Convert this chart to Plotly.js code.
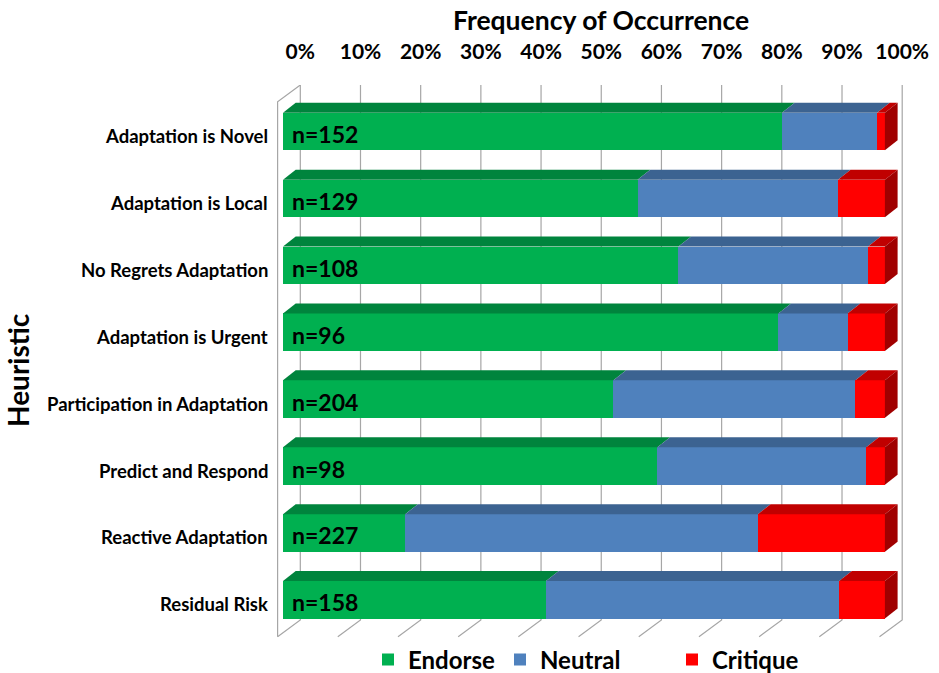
<!DOCTYPE html>
<html>
<head>
<meta charset="utf-8">
<script src="https://cdn.plot.ly/plotly-3.0.1.min.js"></script>
<style>html,body{margin:0;padding:0;background:#fff}#chart{width:939px;height:673px}</style>
</head>
<body>
<div id="chart"></div>
<script>
// ---- data ----
const categories = ['Adaptation is Novel','Adaptation is Local','No Regrets Adaptation','Adaptation is Urgent','Participation in Adaptation','Predict and Respond','Reactive Adaptation','Residual Risk'];
const nLabels = ['n=152','n=129','n=108','n=96','n=204','n=98','n=227','n=158'];
const endorse  = [82.9, 58.9, 65.7, 82.3, 54.9, 62.2, 20.3, 43.7];
const neutral  = [15.8, 33.3, 31.5, 11.5, 40.2, 34.7, 58.6, 48.7];
const critique = [ 1.3,  7.8,  2.8,  6.2,  4.9,  3.1, 21.1,  7.6];
const seriesNames = ['Endorse','Neutral','Critique'];
const tickVals = [0,10,20,30,40,50,60,70,80,90,100];
const tickText = ['0%','10%','20%','30%','40%','50%','60%','70%','80%','90%','100%'];

// ---- styling / geometry ----
const frontCol = ['#00B050','#4F81BD','#FF0000'];
const topCol   = ['#00843D','#3C6391','#C00000'];
const sideCol  = '#A00000';
const W=939,H=673,L=277,R=20,T=85,B=33;
const plotW=W-L-R, plotH=H-T-B;
const PXX=6.019, X0PX=283;          // px per %, px of front 0%
const PXY=66.9;                       // px per category
const xR=[(L-X0PX)/PXX,(W-R-X0PX)/PXX];
const yTopR = (categories.length-1) + (131.5-T)/PXY;
const yR=[yTopR - plotH/PXY, yTopR];
const px2x = px => (px-X0PX)/PXX;
const px2y = py => yTopR - (py-T)/PXY;
const BACK_DX=17.3, BACK_TOP=85, BACK_BOT=620, FLOOR=636.7, FLOOR_DX=22.7;
const BDX=12.7/PXX, BDY=10/PXY, BW=0.56;
const legendLeftPx=[368,500,672];

const n = categories.length;
const yPos = categories.map((c,i)=>n-1-i);
const series=[endorse,neutral,critique];
const legendIds=['legend','legend2','legend3'];

const traces = series.map((vals,k)=>({
  type:'bar', orientation:'h', name:seriesNames[k], x:vals, y:yPos, width:BW, legend:legendIds[k],
  marker:{color:frontCol[k], line:{width:0}}, hoverinfo:'x+name'
}));

const shapes=[];
tickVals.forEach(v=>{
  const bx = X0PX + v*PXX + BACK_DX;
  shapes.push({type:'path',xref:'x',yref:'y',layer:'below',
    path:`M${px2x(bx)},${px2y(BACK_TOP)} L${px2x(bx)},${px2y(BACK_BOT)} L${px2x(bx-FLOOR_DX)},${px2y(FLOOR)}`,
    line:{color:'#A6A6A6',width:1.2}});
});
shapes.push({type:'path',xref:'x',yref:'y',layer:'below',
  path:`M${px2x(X0PX+BACK_DX-FLOOR_DX)},${px2y(FLOOR)} L${px2x(X0PX+BACK_DX-FLOOR_DX)},${px2y(BACK_TOP+FLOOR-BACK_BOT)} L${px2x(X0PX+BACK_DX)},${px2y(BACK_TOP)}`,
  line:{color:'#A6A6A6',width:1.2}});
yPos.forEach((y,i)=>{
  let cum=0;
  const yt=y+BW/2, yb=y-BW/2;
  series.forEach((vals,k)=>{
    const x0=cum, x1=cum+vals[i]; cum=x1;
    shapes.push({type:'path',xref:'x',yref:'y',layer:'above',
      path:`M${x0},${yt} L${x1},${yt} L${x1+BDX},${yt+BDY} L${x0+BDX},${yt+BDY} Z`,
      fillcolor:topCol[k], line:{width:0}});
  });
  shapes.push({type:'path',xref:'x',yref:'y',layer:'above',
    path:`M${cum},${yb} L${cum},${yt} L${cum+BDX},${yt+BDY} L${cum+BDX},${yb+BDY} Z`,
    fillcolor:sideCol, line:{width:0}});
});

const annotations = nLabels.map((t,i)=>({
  xref:'x',yref:'y',x:0,y:yPos[i],text:t,showarrow:false,xanchor:'left',yanchor:'middle',xshift:7,yshift:-2.5,
  font:{family:'Lato',size:23,color:'#000',weight:700}
}));
categories.forEach((c,i)=>annotations.push({
  xref:'paper',yref:'y',x:(270-L)/plotW,y:yPos[i],text:c,showarrow:false,xanchor:'right',yanchor:'middle',yshift:-4.5,
  font:{family:'Lato',size:18.5,color:'#000',weight:700}
}));
annotations.push({xref:'x2',yref:'paper',x:50,y:(plotH+T-20)/plotH,text:'Frequency of Occurrence',showarrow:false,
  xanchor:'center',yanchor:'middle',font:{family:'Lato',size:26.5,color:'#000',weight:700}});
annotations.push({xref:'paper',yref:'paper',x:(18-L)/plotW,y:(T+plotH-370)/plotH,text:'Heuristic',textangle:-90,showarrow:false,
  xanchor:'center',yanchor:'middle',font:{family:'Lato',size:28,color:'#000',weight:700}});

const legFont={family:'Lato',size:24,color:'#000',weight:700};
const layout={
  width:W,height:H,margin:{l:L,r:R,t:T,b:B,autoexpand:false},
  paper_bgcolor:'#fff',plot_bgcolor:'rgba(0,0,0,0)',
  font:{family:'Lato',color:'#000',weight:700},
  barmode:'stack', bargap:0,
  showlegend:true,
  xaxis:{range:xR,showgrid:false,zeroline:false,showticklabels:false,showline:false,fixedrange:true},
  xaxis2:{range:[xR[0]-BACK_DX/PXX,xR[1]-BACK_DX/PXX],overlaying:'x',side:'top',anchor:'y',
    tickmode:'array',tickvals:tickVals,ticktext:tickText,showgrid:false,zeroline:false,showline:false,
    ticks:'outside',ticklen:17,tickcolor:'rgba(0,0,0,0)',
    tickfont:{family:'Lato',size:21,color:'#000',weight:700}},
  yaxis:{range:yR,showticklabels:false,showgrid:false,zeroline:false,showline:false,ticks:''},
  shapes:shapes, annotations:annotations
};
legendIds.forEach((id,k)=>{
  layout[id]={orientation:'h',x:(legendLeftPx[k]-L)/plotW,xanchor:'left',y:-20/plotH,yanchor:'middle',
    font:legFont,bgcolor:'rgba(0,0,0,0)'};
});
traces.push({type:'scatter',x:[0],y:[0],xaxis:'x2',yaxis:'y',mode:'markers',marker:{opacity:0},showlegend:false,hoverinfo:'skip'});
Plotly.newPlot('chart',traces,layout,{displayModeBar:false,staticPlot:true});
</script>
</body>
</html>
